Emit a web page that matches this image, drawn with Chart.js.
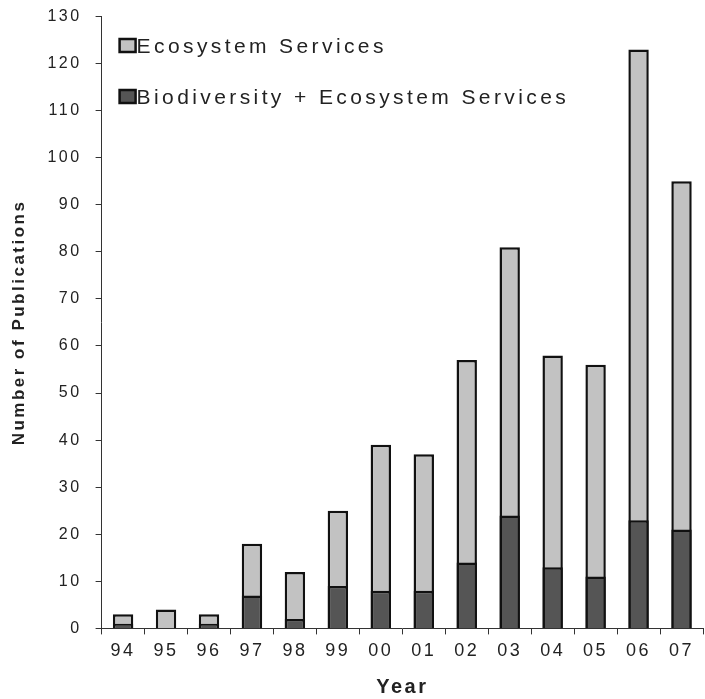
<!DOCTYPE html>
<html>
<head>
<meta charset="utf-8">
<script src="https://cdn.jsdelivr.net/npm/chart.js@4.4.1/dist/chart.umd.min.js"></script>
<style>
  body { margin: 0; background: #fff; }
  #wrap { width: 705px; height: 699px; }
</style>
</head>
<body>
<div id="wrap"><canvas id="chart"></canvas></div>
<script>
// publication counts
const years = ["94", "95", "96", "97", "98", "99", "00", "01", "02", "03", "04", "05", "06", "07"];
const ecosystemServices = [3, 4, 3, 18, 12, 25, 39, 37, 57, 81, 58, 56, 123, 95];
const biodiversityES = [1, 0, 1, 7, 2, 9, 8, 8, 14, 24, 13, 11, 23, 21];
const legendLabels = ["Ecosystem Services", "Biodiversity + Ecosystem Services"];

const lightGray = "#c2c2c2";
const darkGray = "#555555";
const ink = "#222";
const fontFamily = "'Liberation Sans', Arial, sans-serif";

// spaced-out lettering like the scanned figure
const spacing = {
  id: "spacing",
  beforeLayout(chart) { chart.ctx.letterSpacing = "2.5px"; },
  beforeDraw(chart) { chart.ctx.letterSpacing = "2.5px"; }
};

// legend sits inside the plot, top left
const insideLegend = {
  id: "insideLegend",
  afterDraw(chart) {
    const ctx = chart.ctx;
    const left = chart.chartArea.left;
    const colors = [lightGray, darkGray];
    const rows = [46, 97];
    ctx.save();
    ctx.letterSpacing = "3.4px";
    ctx.font = "21px " + fontFamily;
    ctx.textBaseline = "middle";
    legendLabels.forEach((label, i) => {
      ctx.fillStyle = colors[i];
      ctx.strokeStyle = "#111";
      ctx.lineWidth = 2.5;
      ctx.fillRect(left + 18, rows[i] - 7, 16, 13);
      ctx.strokeRect(left + 18, rows[i] - 7, 16, 13);
      ctx.fillStyle = ink;
      ctx.fillText(label, left + 35, rows[i] + 1);
    });
    ctx.restore();
  }
};

new Chart(document.getElementById("chart"), {
  type: "bar",
  data: {
    labels: years,
    datasets: [
      {
        label: legendLabels[0],
        data: ecosystemServices,
        backgroundColor: lightGray,
        borderColor: "#111",
        borderWidth: 2.5,
        order: 1
      },
      {
        label: legendLabels[1],
        data: biodiversityES,
        backgroundColor: darkGray,
        borderColor: "#111",
        borderWidth: 2.5,
        order: 0
      }
    ]
  },
  options: {
    responsive: true,
    maintainAspectRatio: false,
    animation: false,
    barPercentage: 0.5,
    categoryPercentage: 0.95,
    layout: { padding: { top: 0, right: 2, left: 9, bottom: 0 } },
    plugins: {
      legend: { display: false },
      tooltip: { enabled: false }
    },
    scales: {
      x: {
        stacked: true,
        grid: { drawOnChartArea: false, tickLength: 6, color: "#333", offset: true },
        border: { color: "#333", width: 1 },
        ticks: { color: ink, font: { size: 18, family: fontFamily }, padding: 6 },
        title: {
          display: true,
          text: "Year",
          color: ink,
          font: { size: 20, weight: "bold", family: fontFamily },
          padding: { top: 7, bottom: 0 }
        }
      },
      y: {
        stacked: false,
        min: 0,
        max: 130,
        ticks: { stepSize: 10, color: ink, font: { size: 16, family: fontFamily }, padding: 14 },
        grid: { drawOnChartArea: false, tickLength: 6, color: "#333" },
        border: { color: "#333", width: 1 },
        title: {
          display: true,
          text: "Number of Publications",
          color: ink,
          font: { size: 17, weight: "bold", family: fontFamily },
          padding: { top: 0, bottom: 4 }
        },
        // keep the wide label gap without pushing the plot top down
        afterFit(scale) { scale.paddingTop = 16.5; }
      }
    }
  },
  plugins: [spacing, insideLegend]
});
</script>
</body>
</html>
